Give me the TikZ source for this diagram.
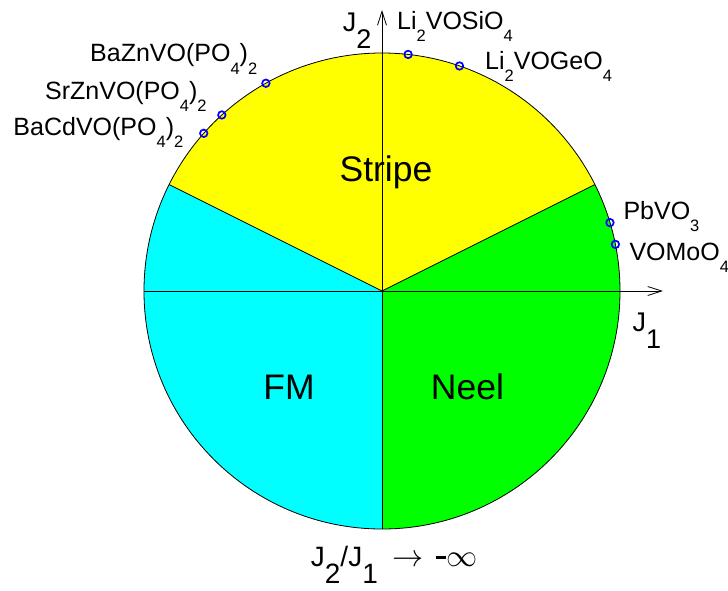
\documentclass[tikz,border=0pt]{standalone}
\usepackage{fontspec}
\setmainfont{Liberation Sans}
\usetikzlibrary{arrows.meta}
\definecolor{myyellow}{RGB}{255,255,0}
\definecolor{mycyan}{RGB}{0,255,255}
\definecolor{mygreen}{RGB}{0,255,0}
\definecolor{myblue}{RGB}{0,0,255}
\newcommand\csub[1]{\raisebox{-0.5em}{\fontsize{16.5}{16.5}\selectfont #1}}
\newcommand\jsub[1]{\raisebox{-0.62em}{#1}}
\begin{document}
\begin{tikzpicture}[x=1pt,y=1pt,
  ax/.style={line width=0.8pt,-{Straight Barb[length=14pt,width=9pt]}},
  edge/.style={line width=0.8pt},
  pt/.style={circle,draw=myblue,line width=1.7pt,minimum size=7.5pt,inner sep=0pt},
  cmp/.style={font=\fontsize{25}{25}\selectfont,anchor=base west,inner sep=0pt},
  axl/.style={font=\fontsize{27}{27}\selectfont,anchor=base west,inner sep=0pt},
  reg/.style={font=\fontsize{35.5}{35.5}\selectfont,inner sep=0pt}]
\useasboundingbox (-382,-299) rectangle (346,291);
\def\R{238}
\coordinate (O) at (0,0);
\coordinate (bR) at (26.565:\R);
\coordinate (bL) at (153.435:\R);
\coordinate (xL) at (-\R,0);
\coordinate (xT) at (281,0);
\coordinate (yB) at (0,-\R);
\coordinate (yT) at (0,281);
% sectors
\fill[myyellow] (O) -- (bR) arc[start angle=26.565,end angle=153.435,radius=\R] -- cycle;
\fill[mycyan] (O) -- (bL) arc[start angle=153.435,end angle=270,radius=\R] -- cycle;
\fill[mygreen] (O) -- (yB) arc[start angle=270,end angle=386.565,radius=\R] -- cycle;
% axes and boundaries
\draw[ax] (xL) -- (xT);
\draw[ax] (yB) -- (yT);
\draw[edge] (O) -- (bR);
\draw[edge] (O) -- (bL);
\draw[edge] (O) circle[radius=\R];
% materials
\node[pt] (p1) at (83.7:\R) {};
\node[pt] (p2) at (71.0:\R) {};
\node[pt] (p3) at (119.2:\R) {};
\node[pt] (p4) at (132.3:\R) {};
\node[pt] (p5) at (138.5:\R) {};
\node[pt] (p6) at (16.7:\R) {};
\node[pt] (p7) at (11.3:\R) {};
\node[cmp] (l1) at (15,261.7) {Li\csub{2}VOSiO\csub{4}};
\node[cmp] (l2) at (103,221.7) {Li\csub{2}VOGeO\csub{4}};
\node[cmp] (l3) at (-292,229.3) {BaZnVO(PO\csub{4})\csub{2}};
\node[cmp] (l4) at (-337,191.7) {SrZnVO(PO\csub{4})\csub{2}};
\node[cmp] (l5) at (-368.7,156) {BaCdVO(PO\csub{4})\csub{2}};
\node[cmp] (l6) at (241.3,71.7) {PbVO\csub{3}};
\node[cmp] (l7) at (247.3,31) {VOMoO\csub{4}};
% axis labels
\node[axl] (j2) at (-39.3,259.3) {J\jsub{2}};
\node[axl] (j1) at (250.3,-40.7) {J\jsub{1}};
\node[axl,font=\fontsize{28}{28}\selectfont] (lim) at (-71.3,-275) {J\jsub{2}/J\jsub{1}\hspace{15pt}\scalebox{1.25}{$\rightarrow$}\hspace{12pt}\rule[7.2pt]{10pt}{2.4pt}\hspace{1pt}\scalebox{1.25}{$\infty$}};
% regions
\node[reg,anchor=base] (stripe) at (4,109.3) {Stripe};
\node[reg,anchor=base] (fm) at (-93,-108.3) {FM};
\node[reg,anchor=base west] (neel) at (48.7,-108.3) {Neel};
\end{tikzpicture}
\end{document}
